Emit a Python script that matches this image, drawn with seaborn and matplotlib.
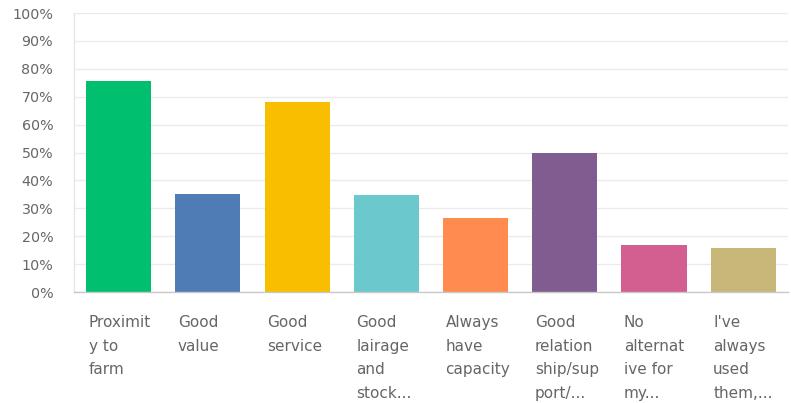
import matplotlib
matplotlib.use("Agg")
import matplotlib.pyplot as plt
import matplotlib.transforms as mtransforms
from matplotlib.ticker import FixedLocator
import seaborn as sns
import pandas as pd

categories = [
    "Proximit\ny to\nfarm",
    "Good\nvalue",
    "Good\nservice",
    "Good\nlairage\nand\nstock...",
    "Always\nhave\ncapacity",
    "Good\nrelation\nship/sup\nport/...",
    "No\nalternat\nive for\nmy...",
    "I've\nalways\nused\nthem,...",
]
shares = [75.6, 35.2, 68.2, 34.6, 26.4, 49.8, 16.8, 15.9]
colors = ["#00BF6F", "#507CB6", "#F9BE00", "#6BC8CD",
          "#FF8B4F", "#7F5D90", "#D25F90", "#C7B879"]
y_ticks = [0, 10, 20, 30, 40, 50, 60, 70, 80, 90, 100]

df = pd.DataFrame({"answer": categories, "share": shares})

sns.set_theme(style="white")
plt.rcParams["font.family"] = ["DejaVu Sans"]

fig = plt.figure(figsize=(7.91, 4.03), dpi=100)
ax = fig.add_axes([0.0936, 0.2754, 0.9024, 0.6923])

sns.barplot(data=df, x="answer", y="share", hue="answer",
            palette=colors, legend=False, width=0.73, ax=ax,
            saturation=1, linewidth=0)

ax.set_ylim(0, 100)
ax.set_xlim(-0.5, len(categories) - 0.5)
ax.yaxis.set_major_locator(FixedLocator(y_ticks))
ax.set_yticklabels([f"{t}%" for t in y_ticks])
ax.set_xlabel("")
ax.set_ylabel("")

ax.grid(axis="y", color="#ebebeb", linewidth=1)
ax.set_axisbelow(True)
for side in ["top", "right"]:
    ax.spines[side].set_visible(False)
ax.spines["left"].set_color("#e6e6e6")
ax.spines["bottom"].set_color("#c8c8c8")
ax.spines["left"].set_linewidth(1)
ax.spines["bottom"].set_linewidth(1)

ax.tick_params(axis="y", length=0, pad=15, labelsize=10.3, labelcolor="#666666")
ax.tick_params(axis="x", length=0, pad=16.5, labelsize=11, labelcolor="#666666")

shift = mtransforms.ScaledTranslation(-30 / 100, 0, fig.dpi_scale_trans)
for lab in ax.get_xticklabels():
    lab.set_horizontalalignment("left")
    lab.set_verticalalignment("top")
    lab.set_linespacing(1.72)
    lab.set_transform(lab.get_transform() + shift)

fig.savefig("out.png", dpi=100, facecolor="white")
